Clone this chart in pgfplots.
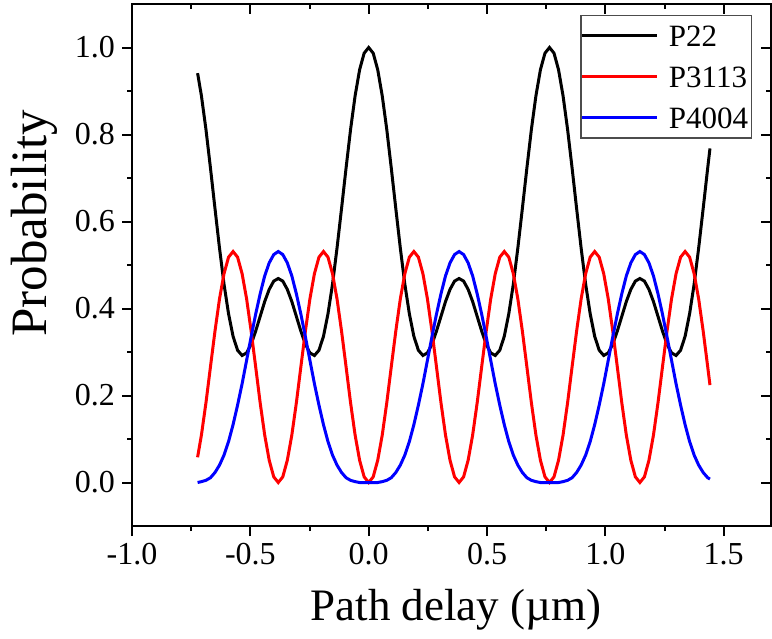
\documentclass[border=0pt]{standalone}
\usepackage{fontspec}
\setmainfont{Liberation Serif}
\usepackage{pgfplots}
\usepackage{pgfplotstable}
\pgfplotsset{compat=1.18}

\pgfplotstableread{
x p22 p3113 p4004
-0.7229 0.941 0.058 0.000
-0.7067 0.889 0.109 0.002
-0.6876 0.812 0.183 0.005
-0.6685 0.723 0.266 0.011
-0.6494 0.630 0.348 0.023
-0.6303 0.539 0.422 0.040
-0.6112 0.456 0.480 0.063
-0.5921 0.388 0.518 0.094
-0.5730 0.336 0.531 0.133
-0.5539 0.304 0.518 0.178
-0.5348 0.292 0.480 0.227
-0.5157 0.298 0.422 0.281
-0.4966 0.318 0.348 0.335
-0.4775 0.348 0.266 0.387
-0.4584 0.382 0.183 0.434
-0.4393 0.416 0.109 0.475
-0.4202 0.444 0.051 0.505
-0.4011 0.463 0.013 0.524
-0.3820 0.469 0.000 0.531
-0.3629 0.463 0.013 0.524
-0.3438 0.444 0.051 0.505
-0.3247 0.416 0.109 0.475
-0.3056 0.382 0.183 0.434
-0.2865 0.348 0.266 0.387
-0.2674 0.318 0.348 0.335
-0.2483 0.298 0.422 0.281
-0.2292 0.292 0.480 0.227
-0.2101 0.304 0.518 0.178
-0.1910 0.336 0.531 0.133
-0.1719 0.388 0.518 0.094
-0.1528 0.456 0.480 0.063
-0.1337 0.539 0.422 0.040
-0.1146 0.630 0.348 0.023
-0.0955 0.723 0.266 0.011
-0.0764 0.812 0.183 0.005
-0.0573 0.889 0.109 0.002
-0.0382 0.949 0.051 0.000
-0.0191 0.987 0.013 0.000
0.0000 1.000 0.000 0.000
0.0191 0.987 0.013 0.000
0.0382 0.949 0.051 0.000
0.0573 0.889 0.109 0.002
0.0764 0.812 0.183 0.005
0.0955 0.723 0.266 0.011
0.1146 0.630 0.348 0.023
0.1337 0.539 0.422 0.040
0.1528 0.456 0.480 0.063
0.1719 0.388 0.518 0.094
0.1910 0.336 0.531 0.133
0.2101 0.304 0.518 0.178
0.2292 0.292 0.480 0.227
0.2483 0.298 0.422 0.281
0.2674 0.318 0.348 0.335
0.2865 0.348 0.266 0.387
0.3056 0.382 0.183 0.434
0.3247 0.416 0.109 0.475
0.3438 0.444 0.051 0.505
0.3629 0.463 0.013 0.524
0.3820 0.469 0.000 0.531
0.4011 0.463 0.013 0.524
0.4202 0.444 0.051 0.505
0.4393 0.416 0.109 0.475
0.4584 0.382 0.183 0.434
0.4775 0.348 0.266 0.387
0.4966 0.318 0.348 0.335
0.5157 0.298 0.422 0.281
0.5348 0.292 0.480 0.227
0.5539 0.304 0.518 0.178
0.5730 0.336 0.531 0.133
0.5921 0.388 0.518 0.094
0.6112 0.456 0.480 0.063
0.6303 0.539 0.422 0.040
0.6494 0.630 0.348 0.023
0.6685 0.723 0.266 0.011
0.6876 0.812 0.183 0.005
0.7067 0.889 0.109 0.002
0.7258 0.949 0.051 0.000
0.7449 0.987 0.013 0.000
0.7640 1.000 0.000 0.000
0.7831 0.987 0.013 0.000
0.8022 0.949 0.051 0.000
0.8213 0.889 0.109 0.002
0.8404 0.812 0.183 0.005
0.8595 0.723 0.266 0.011
0.8786 0.630 0.348 0.023
0.8977 0.539 0.422 0.040
0.9168 0.456 0.480 0.063
0.9359 0.388 0.518 0.094
0.9550 0.336 0.531 0.133
0.9741 0.304 0.518 0.178
0.9932 0.292 0.480 0.227
1.0123 0.298 0.422 0.281
1.0314 0.318 0.348 0.335
1.0505 0.348 0.266 0.387
1.0696 0.382 0.183 0.434
1.0887 0.416 0.109 0.475
1.1078 0.444 0.051 0.505
1.1269 0.463 0.013 0.524
1.1460 0.469 0.000 0.531
1.1651 0.463 0.013 0.524
1.1842 0.444 0.051 0.505
1.2033 0.416 0.109 0.475
1.2224 0.382 0.183 0.434
1.2415 0.348 0.266 0.387
1.2606 0.318 0.348 0.335
1.2797 0.298 0.422 0.281
1.2988 0.292 0.480 0.227
1.3179 0.304 0.518 0.178
1.3370 0.336 0.531 0.133
1.3561 0.388 0.518 0.094
1.3752 0.456 0.480 0.063
1.3943 0.539 0.422 0.040
1.4134 0.630 0.348 0.023
1.4325 0.723 0.266 0.011
1.4421 0.768 0.224 0.008
}\probdata

\pgfplotsset{
  frame/.style={
    scale only axis,
    width=319.5pt, height=261pt,
    xmin=-1.0, xmax=1.7, ymin=-0.1, ymax=1.1,
    xtick={-1.0,-0.5,0.0,0.5,1.0,1.5},
    ytick={0.0,0.2,0.4,0.6,0.8,1.0},
    minor x tick num=1, minor y tick num=1,
    major tick length=5pt, minor tick length=2.5pt,
    every tick/.style={black, line width=1pt},
    axis line style={line width=1pt},
  },
}

\begin{document}
\begin{tikzpicture}
\begin{axis}[
    frame,
    xtick pos=left, ytick pos=left,
    tick align=outside,
    /pgf/number format/assume math mode=true,
    xticklabel style={/pgf/number format/fixed, /pgf/number format/fixed zerofill, /pgf/number format/precision=1},
    yticklabel style={/pgf/number format/fixed, /pgf/number format/fixed zerofill, /pgf/number format/precision=1},
    tick label style={font=\fontsize{16}{19}\selectfont},
    xlabel={Path delay (µm)},
    ylabel={Probability},
    xlabel style={font=\fontsize{22.5}{27}\selectfont, at={(axis description cs:0.507,-0.161)}, anchor=center},
    ylabel style={font=\fontsize{25.5}{30}\selectfont, at={(axis description cs:-0.153,0.58)}, anchor=center, rotate=0},
    legend cell align=left,
    legend image code/.code={\draw[#1] (0pt,0pt) -- (37pt,0pt); \path (41pt,0pt);},
    legend style={at={(0.970,0.979)}, anchor=north east,
      draw=black!70, line width=0.6pt,
      font=\fontsize{15.5}{18}\selectfont,
      inner xsep=0pt, inner ysep=0pt, row sep=0pt,
      nodes={inner xsep=1.5pt, inner ysep=4.7pt, text height=11pt, text depth=0pt}},
  ]
\addplot[black, line width=1.5pt] table[x=x, y=p22] {\probdata};
\addlegendentry{P22}
\addplot[red, line width=1.5pt] table[x=x, y=p3113] {\probdata};
\addlegendentry{P3113}
\addplot[blue, line width=1.5pt] table[x=x, y=p4004] {\probdata};
\addlegendentry{P4004}
\end{axis}
\begin{axis}[
    frame,
    xtick pos=right, ytick pos=right,
    tick align=inside,
    xticklabels={}, yticklabels={},
  ]
\end{axis}
\pgfresetboundingbox
\path ([shift={(-66pt,-56pt)}]current axis.south west) rectangle ([shift={(0.5pt,2pt)}]current axis.north east);
\end{tikzpicture}
\end{document}
